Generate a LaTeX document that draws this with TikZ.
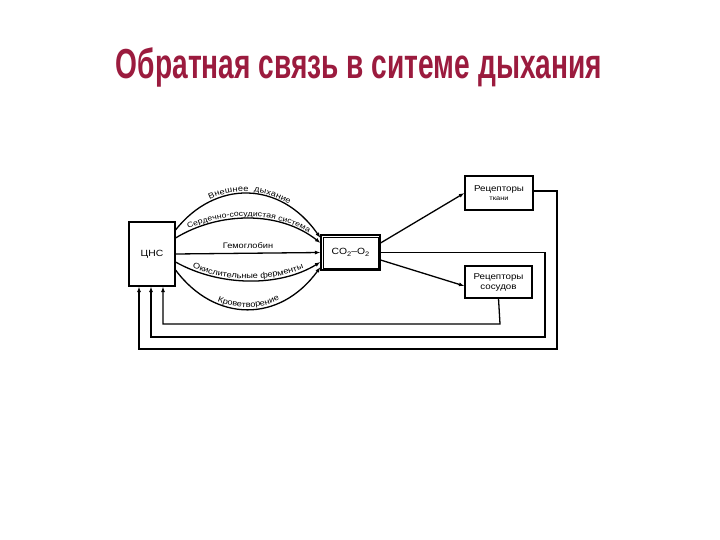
\documentclass[tikz,border=0pt]{standalone}
\usepackage{fontspec}
\setmainfont{Liberation Sans}
\newfontfamily\titlefont[FakeStretch=0.67]{Liberation Sans}
\newfontfamily\labfont[FakeStretch=1.15]{Liberation Sans}
\usetikzlibrary{arrows.meta,decorations.text}
\definecolor{titlered}{HTML}{9B1B3E}
\tikzset{box/.style={draw,line width=1.1pt,align=center,inner sep=0pt,font=\labfont\fontsize{8.5}{10}\selectfont}, arr/.style={-{Latex[length=5.5pt,width=4pt]},line width=1.3pt}, feed/.style={arr}, curvelab/.style 2 args={postaction={decorate,decoration={text along path,text align=center,raise=2pt,text={|\labfont\fontsize{#1}{9}\selectfont|#2}}}}}
\newcommand{\subtwo}{\raisebox{-2pt}{\fontsize{6.5}{7}\selectfont 2}}

\begin{document}
\begin{tikzpicture}[x=1pt,y=-1pt]
\useasboundingbox (0,0) rectangle (720,540);
\node[font=\titlefont\bfseries\fontsize{42}{44}\selectfont,text=titlered] (title) at (359,67) {Обратная связь в ситеме дыхания};
\node[box,minimum width=46pt,minimum height=64pt,font=\labfont\fontsize{9}{10}\selectfont] (cns) at (152,254) {ЦНС};
\node[box,minimum width=59pt,minimum height=35pt,font=\labfont\fontsize{9}{10}\selectfont] (co) at (350.5,252.5) {CO\subtwo–O\subtwo};
\draw[line width=0.6pt] ([xshift=2.5pt,yshift=-2.5pt]co.north west) rectangle ([xshift=-2.5pt,yshift=2.5pt]co.south east);
\node[box,minimum width=68pt,minimum height=34pt] (tis) at (499,193) {Рецепторы\\[-1pt]{\fontsize{6.5}{7}\selectfont ткани}};
\node[box,minimum width=67pt,minimum height=32pt] (ves) at (498.5,282) {Рецепторы\\сосудов};
% curves from the CNS
\draw[arr,curvelab={8}{Внешнее {} дыхание}] ([yshift=24pt]cns.east) .. controls (215,180) and (280,180) .. ([yshift=14.5pt]co.west);
\draw[arr,curvelab={7.5}{Сердечно-сосудистая система}] ([yshift=16pt]cns.east) .. controls (220,211) and (280,211) .. ([yshift=9.5pt]co.west);
\draw[arr] (cns.east) -- node[above=1pt,font=\labfont\fontsize{8}{9}\selectfont] {Гемоглобин} (co.west);
\draw[arr,curvelab={8}{Окислительные ферменты}] ([yshift=-8pt]cns.east) .. controls (220,287) and (280,287) .. ([yshift=-9.5pt]co.west);
\draw[arr,curvelab={8}{Кроветворение}] ([yshift=-16pt]cns.east) .. controls (215,323) and (280,323) .. ([yshift=-14.5pt]co.west);
% to receptors
\draw[arr] ([yshift=9.5pt]co.east) -- (tis.west);
\draw[arr] ([yshift=-7.5pt]co.east) -- ([yshift=-4pt]ves.west);
% feedback loops
\coordinate (f1) at (500,324);
\coordinate (f2) at (545,337);
\coordinate (f3) at (557,349);
\draw[feed] (ves.south) -- (f1) -| ([xshift=11pt]cns.south);
\draw[feed] (co.east) -| (f2) -| ([xshift=-1pt]cns.south);
\draw[feed] ([yshift=2pt]tis.east) -| (f3) -| ([xshift=-13pt]cns.south);
\end{tikzpicture}
\end{document}
